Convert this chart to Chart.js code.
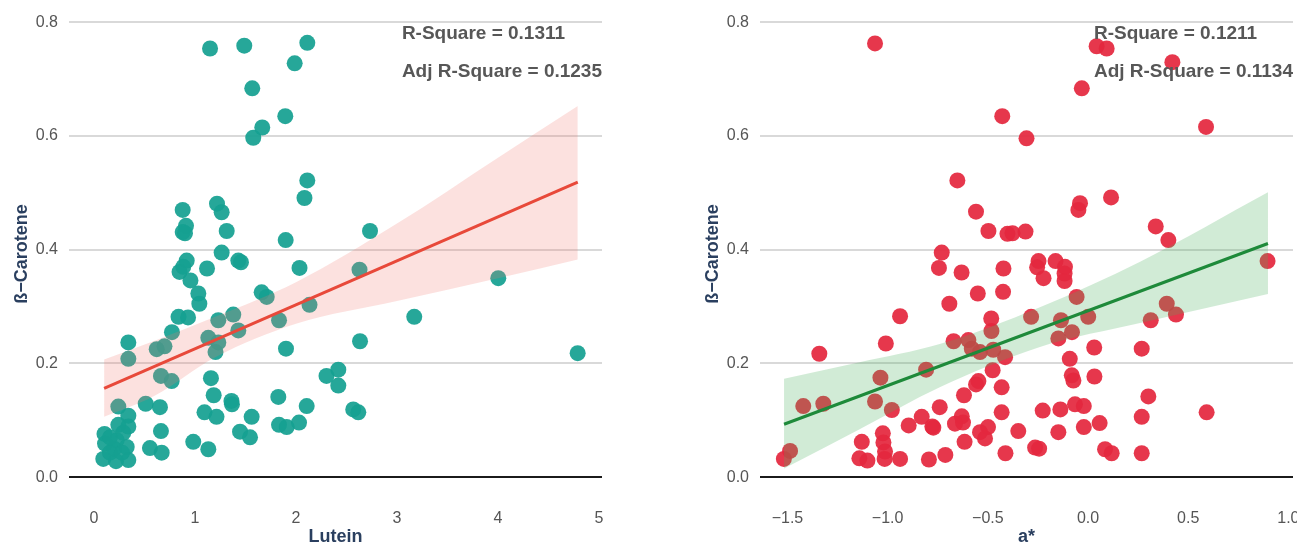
<!DOCTYPE html>
<html>
<head>
<meta charset="utf-8">
<script src="https://cdn.jsdelivr.net/npm/chart.js@4.4.1/dist/chart.umd.min.js"></script>
<style>
  html, body { margin: 0; padding: 0; background: #fff; width: 1297px; height: 543px; overflow: hidden; }
  .panel { position: absolute; top: 0; height: 543px; }
</style>
</head>
<body>
<div class="panel" style="left:0;width:640px"><canvas id="luteinChart" width="640" height="543"></canvas></div>
<div class="panel" style="left:650px;width:647px"><canvas id="aStarChart" width="647" height="543"></canvas></div>
<script>
// ---- data: lutein vs beta-carotene ----
const luteinX = [
  1.149, 1.488, 2.112, 1.987, 1.567, 1.894, 1.666, 1.577, 2.112, 2.084,
  0.878, 1.218, 1.264, 0.911, 0.878, 0.901, 1.314, 1.898, 1.264, 1.429,
  1.455, 0.918, 0.884, 0.847, 1.119, 2.035, 0.955, 1.033, 1.043, 1.660,
  1.710, 0.837, 0.931, 0.772, 1.231, 1.379, 2.134, 1.832, 1.429, 1.132,
  1.231, 1.203, 0.621, 0.698, 1.901, 0.340, 0.340, 0.663, 0.769, 1.158,
  1.185, 1.361, 1.366, 1.825, 2.106, 2.302, 1.094, 1.213, 1.561, 1.832,
  1.908, 2.030, 1.446, 1.545, 0.983, 1.132, 0.512, 0.653, 0.241, 0.340,
  0.241, 0.340, 0.663, 0.104, 0.109, 0.225, 0.324, 0.198, 0.554, 0.670,
  0.092, 0.218, 0.340, 2.629, 4.003, 3.171, 2.634, 4.789, 2.419, 2.419,
  2.567, 2.617, 2.733, 0.158, 0.277, 0.158, 0.290
];
const luteinCarotene = [
  0.754, 0.759, 0.764, 0.728, 0.684, 0.635, 0.615, 0.597, 0.522, 0.491,
  0.470, 0.481, 0.466, 0.442, 0.431, 0.429, 0.433, 0.417, 0.395, 0.381,
  0.378, 0.381, 0.370, 0.361, 0.367, 0.368, 0.346, 0.323, 0.305, 0.325,
  0.317, 0.282, 0.281, 0.255, 0.276, 0.286, 0.303, 0.276, 0.258, 0.245,
  0.237, 0.220, 0.225, 0.230, 0.226, 0.237, 0.208, 0.178, 0.169, 0.174,
  0.144, 0.134, 0.128, 0.141, 0.125, 0.178, 0.114, 0.106, 0.106, 0.092,
  0.088, 0.096, 0.080, 0.070, 0.062, 0.049, 0.129, 0.123, 0.124, 0.108,
  0.092, 0.089, 0.081, 0.076, 0.059, 0.065, 0.053, 0.050, 0.051, 0.043,
  0.032, 0.028, 0.030, 0.365, 0.350, 0.282, 0.239, 0.218, 0.189, 0.161,
  0.119, 0.114, 0.433, 0.043, 0.043, 0.070, 0.078
];
const luteinFitX = [0.10, 4.79];
const luteinFitY = [0.156, 0.519];
const luteinBandX = [0.10, 0.60, 1.20, 2.00, 3.00, 4.00, 4.79];
const luteinBandUpper = [0.207, 0.240, 0.282, 0.343, 0.446, 0.562, 0.653];
const luteinBandLower = [0.106, 0.143, 0.211, 0.270, 0.310, 0.350, 0.383];

// ---- data: a* vs beta-carotene ----
const aStarX = [
  -1.063, 0.043, 0.093, 0.421, -0.031, -0.428, -0.307, 0.589, -0.652, -0.559,
  -0.040, -0.048, 0.115, -0.497, -0.402, -0.377, -0.312, 0.338, 0.401, 0.896,
  -0.730, -0.744, -0.631, -0.422, -0.254, -0.222, -0.247, -0.162, -0.115, -0.117,
  -0.117, -0.550, -0.424, -0.692, -0.938, -0.057, 0.393, 0.439, -0.483, -0.482,
  -0.284, -0.135, -0.080, -0.148, 0.001, 0.313, -1.009, -1.341, -0.671, -0.597,
  -0.580, -0.539, -0.473, -0.414, 0.031, 0.268, -0.091, -0.808, -1.036, -0.476,
  -0.547, -0.559, -0.431, -0.081, -0.073, 0.032, -0.619, -1.063, -0.979, -1.421,
  -1.321, -0.740, 0.301, -0.226, -0.138, -0.065, -0.021, -0.431, 0.592, 0.268,
  -0.630, -0.624, -0.664, -0.830, -0.777, -0.772, -0.895, -0.499, -0.539, -0.514,
  -0.348, -0.148, -0.021, 0.058, -0.616, -0.712, -0.412, -0.264, -0.244, 0.085,
  0.118, 0.268, -1.129, -1.024, -1.021, -1.013, -1.015, -1.141, -1.101, -0.938,
  -0.794, -1.487, -1.518
];
const aStarCarotene = [
  0.763, 0.758, 0.754, 0.730, 0.684, 0.635, 0.596, 0.616, 0.522, 0.467,
  0.482, 0.470, 0.492, 0.433, 0.428, 0.429, 0.432, 0.441, 0.417, 0.380,
  0.395, 0.368, 0.360, 0.367, 0.369, 0.350, 0.380, 0.380, 0.370, 0.358,
  0.345, 0.323, 0.326, 0.305, 0.283, 0.317, 0.305, 0.286, 0.279, 0.257,
  0.282, 0.276, 0.255, 0.244, 0.282, 0.276, 0.235, 0.217, 0.239, 0.241,
  0.226, 0.220, 0.224, 0.211, 0.228, 0.226, 0.208, 0.189, 0.175, 0.188,
  0.169, 0.163, 0.158, 0.179, 0.170, 0.177, 0.144, 0.133, 0.118, 0.125,
  0.129, 0.123, 0.142, 0.117, 0.119, 0.128, 0.125, 0.114, 0.114, 0.106,
  0.107, 0.096, 0.094, 0.106, 0.089, 0.087, 0.091, 0.088, 0.079, 0.068,
  0.081, 0.079, 0.088, 0.095, 0.062, 0.039, 0.042, 0.052, 0.050, 0.049,
  0.042, 0.042, 0.062, 0.077, 0.061, 0.045, 0.032, 0.033, 0.029, 0.032,
  0.031, 0.046, 0.032
];
const aStarFitX = [-1.517, 0.898];
const aStarFitY = [0.093, 0.411];
const aStarBandX = [-1.517, -1.14, -0.74, -0.24, 0.26, 0.898];
const aStarBandUpper = [0.173, 0.202, 0.234, 0.299, 0.379, 0.501];
const aStarBandLower = [0.015, 0.084, 0.158, 0.229, 0.271, 0.322];

// ---- axes ----
const caroteneTicks = [0, 0.2, 0.4, 0.6, 0.8];
const luteinTicks = [0, 1, 2, 3, 4, 5];
const aStarTicks = [-1.5, -1.0, -0.5, 0, 0.5, 1.0];

const FONT = "'Liberation Sans', Arial, Helvetica, sans-serif";
const zip = (xs, ys) => xs.map((x, i) => ({ x, y: ys[i] }));

// keep tick labels from pushing the plot area inward
const noLabelPadding = s => {
  s.paddingTop = 0; s.paddingBottom = 0; s.paddingLeft = 0; s.paddingRight = 0;
};

// axis titles and R-square notes drawn on top of the plot
const decorations = {
  id: 'decorations',
  afterDraw(chart, args, opts) {
    const { ctx, chartArea: a } = chart;
    ctx.save();
    ctx.fillStyle = '#2a3f5f';
    ctx.font = `bold 18px ${FONT}`;
    ctx.textAlign = 'center';
    ctx.textBaseline = 'middle';
    ctx.fillText(opts.xTitle, (a.left + a.right) / 2, 537);
    ctx.translate(a.left - 47, (a.top + a.bottom) / 2);
    ctx.rotate(-Math.PI / 2);
    ctx.fillText(opts.yTitle, 0, 0);
    ctx.restore();

    ctx.save();
    ctx.fillStyle = '#575757';
    ctx.font = `bold 19px ${FONT}`;
    ctx.textAlign = 'left';
    ctx.textBaseline = 'middle';
    const w = ctx.measureText(opts.notes[1]).width;
    const x0 = a.right - w;
    ctx.fillText(opts.notes[0], x0, 34);
    ctx.fillText(opts.notes[1], x0, 72);
    ctx.restore();
  }
};

function makeChart(id, cfg) {
  return new Chart(document.getElementById(id), {
    type: 'scatter',
    data: {
      datasets: [
        {
          data: zip(cfg.fitX, cfg.fitY),
          showLine: true,
          borderColor: cfg.lineColor,
          borderWidth: 3,
          pointRadius: 0,
          fill: false,
          order: 0
        },
        {
          data: zip(cfg.bandX, cfg.bandUpper),
          showLine: true,
          borderWidth: 0,
          borderColor: 'rgba(0,0,0,0)',
          backgroundColor: cfg.bandColor,
          pointRadius: 0,
          cubicInterpolationMode: 'monotone',
          fill: 2,
          order: 1
        },
        {
          data: zip(cfg.bandX, cfg.bandLower),
          showLine: true,
          borderWidth: 0,
          borderColor: 'rgba(0,0,0,0)',
          pointRadius: 0,
          cubicInterpolationMode: 'monotone',
          fill: false,
          order: 1
        },
        {
          data: zip(cfg.x, cfg.y),
          showLine: false,
          pointRadius: 8,
          pointBorderWidth: 0,
          pointBackgroundColor: cfg.pointColor,
          backgroundColor: cfg.pointColor,
          order: 2
        }
      ]
    },
    options: {
      responsive: false,
      animation: false,
      devicePixelRatio: 1,
      layout: { autoPadding: false, padding: { top: 11, right: cfg.padRight, left: 0, bottom: 0 } },
      plugins: {
        legend: { display: false },
        tooltip: { enabled: false },
        decorations: { xTitle: cfg.xTitle, yTitle: 'ß\u2212Carotene', notes: cfg.notes }
      },
      scales: {
        x: {
          type: 'linear',
          min: cfg.xMin,
          max: cfg.xMax,
          afterBuildTicks: s => { s.ticks = cfg.xTicks.map(v => ({ value: v })); },
          afterFit: s => { s.height = 46; noLabelPadding(s); },
          grid: { display: false, drawTicks: false },
          border: { display: false },
          ticks: {
            padding: 12,
            color: '#555',
            font: { family: FONT, size: 16 },
            callback: cfg.xFormat
          }
        },
        y: {
          type: 'linear',
          min: -0.035,
          max: 0.82,
          afterBuildTicks: s => { s.ticks = caroteneTicks.map(v => ({ value: v })); },
          afterFit: s => { s.width = cfg.yWidth; noLabelPadding(s); },
          grid: {
            drawTicks: false,
            lineWidth: 2,
            color: c => (c.tick && c.tick.value === 0 ? '#1b1b1b' : '#d9d9d9')
          },
          border: { display: false },
          ticks: {
            padding: 11,
            color: '#555',
            font: { family: FONT, size: 16 },
            callback: v => v.toFixed(1)
          }
        }
      }
    },
    plugins: [decorations]
  });
}

makeChart('luteinChart', {
  x: luteinX, y: luteinCarotene,
  fitX: luteinFitX, fitY: luteinFitY,
  bandX: luteinBandX, bandUpper: luteinBandUpper, bandLower: luteinBandLower,
  pointColor: 'rgba(22,160,145,0.93)',
  lineColor: '#e8493a',
  bandColor: 'rgba(240,120,110,0.22)',
  xMin: -0.2475, xMax: 5.03, xTicks: luteinTicks,
  xFormat: v => String(v),
  yWidth: 69, padRight: 38,
  xTitle: 'Lutein',
  notes: ['R-Square = 0.1311', 'Adj R-Square = 0.1235']
});

makeChart('aStarChart', {
  x: aStarX, y: aStarCarotene,
  fitX: aStarFitX, fitY: aStarFitY,
  bandX: aStarBandX, bandUpper: aStarBandUpper, bandLower: aStarBandLower,
  pointColor: 'rgba(228,40,62,0.93)',
  lineColor: '#1e8a3a',
  bandColor: 'rgba(70,175,90,0.25)',
  xMin: -1.637, xMax: 1.023, xTicks: aStarTicks,
  xFormat: v => (v < 0 ? '\u2212' + Math.abs(v).toFixed(1) : v.toFixed(1)),
  yWidth: 110, padRight: 4,
  xTitle: 'a*',
  notes: ['R-Square = 0.1211', 'Adj R-Square = 0.1134']
});
</script>
</body>
</html>
